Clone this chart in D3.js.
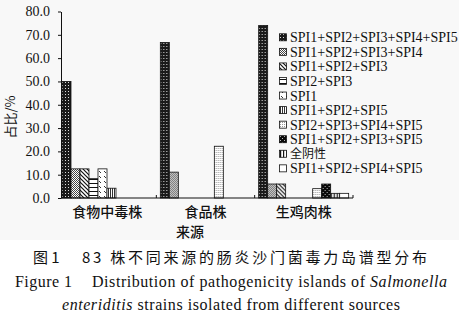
<!DOCTYPE html>
<html><head><meta charset="utf-8">
<script src="https://cdn.jsdelivr.net/npm/d3@7/dist/d3.min.js"></script>
<style>body{margin:0;background:#fff}svg{display:block}</style>
</head><body><svg id="c" width="459" height="314"></svg>
<script>
const categories = ["食物中毒株", "食品株", "生鸡肉株"];
const seriesNames = ["SPI1+SPI2+SPI3+SPI4+SPI5", "SPI1+SPI2+SPI3+SPI4", "SPI1+SPI2+SPI3", "SPI2+SPI3", "SPI1",
  "SPI1+SPI2+SPI5", "SPI2+SPI3+SPI4+SPI5", "SPI1+SPI2+SPI3+SPI5", "全阴性", "SPI1+SPI2+SPI4+SPI5"];
const s1 = [50.0, 66.7, 74.0];
const s2 = [12.5, 11.1, 6.0];
const s3 = [12.5, 0, 6.0];
const s4 = [8.3, 0, 0];
const s5 = [12.5, 0, 0];
const s6 = [4.2, 0, 0];
const s7 = [0, 22.2, 4.0];
const s8 = [0, 0, 6.0];
const s9 = [0, 0, 2.0];
const s10 = [0, 0, 2.0];
const seriesValues = [s1, s2, s3, s4, s5, s6, s7, s8, s9, s10];
const yTicks = [0, 10, 20, 30, 40, 50, 60, 70, 80];

const svg = d3.select("#c");
svg.append("rect").attr("x", 0).attr("y", 0).attr("width", 459).attr("height", 240).attr("fill", "#f8f8f8");

const defs = svg.append("defs");
function pat(id, w, h, bg, draw) {
  const p = defs.append("pattern").attr("id", id).attr("patternUnits", "userSpaceOnUse")
    .attr("width", w).attr("height", h);
  p.append("rect").attr("width", w).attr("height", h).attr("fill", bg);
  draw(p);
}
pat("p0", 3, 3, "#1a1a1a", p => p.append("rect").attr("x", 1).attr("y", 1).attr("width", 1).attr("height", 1).attr("fill", "#ddd"));
pat("p1", 2, 2, "#fff", p => { p.append("rect").attr("width", 1).attr("height", 1).attr("fill", "#444");
  p.append("rect").attr("x", 1).attr("y", 1).attr("width", 1).attr("height", 1).attr("fill", "#444"); });
pat("p2", 4, 4, "#fff", p => { p.append("path").attr("d", "M-1,-1L5,5M-1,3L1,5M3,-1L5,1").attr("stroke", "#111").attr("stroke-width", 1.2); });
pat("p3", 4, 4, "#fff", p => p.append("rect").attr("x", 0).attr("y", 3).attr("width", 4).attr("height", 1.2).attr("fill", "#111"));
pat("p4", 5, 5, "#fff", p => p.append("path").attr("d", "M1,1L3,3").attr("stroke", "#333").attr("stroke-width", 1));
pat("p5", 2, 2, "#fff", p => p.append("rect").attr("x", 0).attr("width", 1).attr("height", 2).attr("fill", "#333"));
pat("p6", 2, 2, "#fff", p => p.append("rect").attr("width", 1).attr("height", 1).attr("fill", "#999"));
pat("p7", 4, 4, "#0a0a0a", p => { p.append("rect").attr("x", 0).attr("y", 0).attr("width", 1).attr("height", 1).attr("fill", "#bbb");
  p.append("rect").attr("x", 2).attr("y", 2).attr("width", 1).attr("height", 1).attr("fill", "#bbb"); });
pat("p8", 3, 3, "#fff", p => p.append("rect").attr("x", 1).attr("width", 1.2).attr("height", 3).attr("fill", "#111"));
const fills = ["url(#p0)", "url(#p1)", "url(#p2)", "url(#p3)", "url(#p4)", "url(#p5)", "url(#p6)", "url(#p7)", "url(#p8)", "#fff"];

const x0 = d3.scaleBand().domain(categories).range([58, 353]).padding(0);
const x1 = d3.scaleBand().domain(d3.range(seriesNames.length)).range([4, 94]).padding(0);
const y = d3.scaleLinear().domain([0, 80]).range([198, 11.5]);

const serif = "'Liberation Serif','Times New Roman',serif";
const cjk = "'Noto Sans CJK SC',sans-serif";

categories.forEach((c, ci) => {
  const g = svg.append("g").attr("transform", `translate(${x0(c)},0)`);
  g.selectAll("rect").data(seriesValues.map((s, si) => ({ si, v: s[ci] })).filter(d => d.v > 0))
    .join("rect")
    .attr("x", d => x1(d.si)).attr("width", x1.bandwidth())
    .attr("y", d => y(d.v)).attr("height", d => y(0) - y(d.v))
    .attr("fill", d => fills[d.si]).attr("stroke", "#111").attr("stroke-width", 0.8);
});

const ya = svg.append("g").attr("transform", "translate(61,0)")
  .call(d3.axisLeft(y).tickValues(yTicks).tickFormat(d3.format(".1f")).tickSizeInner(3).tickSizeOuter(0).tickPadding(8));
ya.attr("font-family", serif).attr("font-size", 14);
ya.select(".domain").attr("stroke", "#111");
ya.selectAll(".tick line").attr("stroke", "#111");
ya.selectAll(".tick text").attr("font-family", serif).attr("font-size", 14).attr("fill", "#111");

svg.append("line").attr("x1", 61).attr("x2", 353).attr("y1", 198).attr("y2", 198).attr("stroke", "#111");
svg.selectAll(".xt").data(categories).join("line").attr("class", "xt")
  .attr("x1", d => x0(d) + x0.bandwidth()).attr("x2", d => x0(d) + x0.bandwidth())
  .attr("y1", 198).attr("y2", 195).attr("stroke", "#111");
svg.selectAll(".xl").data(categories).join("text").attr("class", "xl")
  .attr("x", d => x0(d) + x0.bandwidth() / 2).attr("y", 217).attr("text-anchor", "middle")
  .attr("font-family", cjk).attr("font-size", 14).attr("font-weight", 500).attr("fill", "#111").text(d => d);
svg.append("text").attr("x", 190).attr("y", 237).attr("text-anchor", "middle")
  .attr("font-family", cjk).attr("font-size", 14).attr("font-weight", 500).attr("fill", "#111").text("来源");
svg.append("text").attr("transform", "translate(15,117) rotate(-90)").attr("text-anchor", "middle")
  .attr("font-family", cjk).attr("font-size", 13).attr("fill", "#111").text("占比/%");

const lg = svg.append("g");
seriesNames.forEach((n, i) => {
  const cy = 37.3 + i * 14.56;
  lg.append("rect").attr("x", 279.5).attr("y", cy - 3.5).attr("width", 7).attr("height", 7)
    .attr("fill", fills[i]).attr("stroke", "#111").attr("stroke-width", 0.8);
  const isCjk = n === "全阴性";
  lg.append("text").attr("x", 290).attr("y", cy + (isCjk ? 4.3 : 5)).attr("font-family", isCjk ? cjk : serif)
    .attr("font-size", isCjk ? 12 : 14).attr("fill", "#111").text(n);
});

svg.append("text").attr("x", 33).attr("y", 263).attr("font-family", cjk).attr("font-size", 15).attr("fill", "#111").text("图 1");
svg.append("text").attr("x", 82).attr("y", 263).attr("font-family", cjk).attr("font-size", 15).attr("fill", "#111")
  .attr("textLength", 345).attr("lengthAdjust", "spacing").text("83 株不同来源的肠炎沙门菌毒力岛谱型分布");
svg.append("text").attr("x", 15).attr("y", 287).attr("font-family", serif).attr("font-size", 16).attr("fill", "#111")
  .attr("textLength", 57).attr("lengthAdjust", "spacing").text("Figure 1");
const t2 = svg.append("text").attr("x", 92).attr("y", 287).attr("font-family", serif).attr("font-size", 16).attr("fill", "#111")
  .attr("textLength", 355).attr("lengthAdjust", "spacing");
t2.append("tspan").text("Distribution of pathogenicity islands of ");
t2.append("tspan").attr("font-style", "italic").text("Salmonella");
const t3 = svg.append("text").attr("x", 62).attr("y", 310).attr("font-family", serif).attr("font-size", 16).attr("fill", "#111")
  .attr("textLength", 338).attr("lengthAdjust", "spacing");
t3.append("tspan").attr("font-style", "italic").text("enteriditis");
t3.append("tspan").text(" strains isolated from different sources");
</script></body></html>
